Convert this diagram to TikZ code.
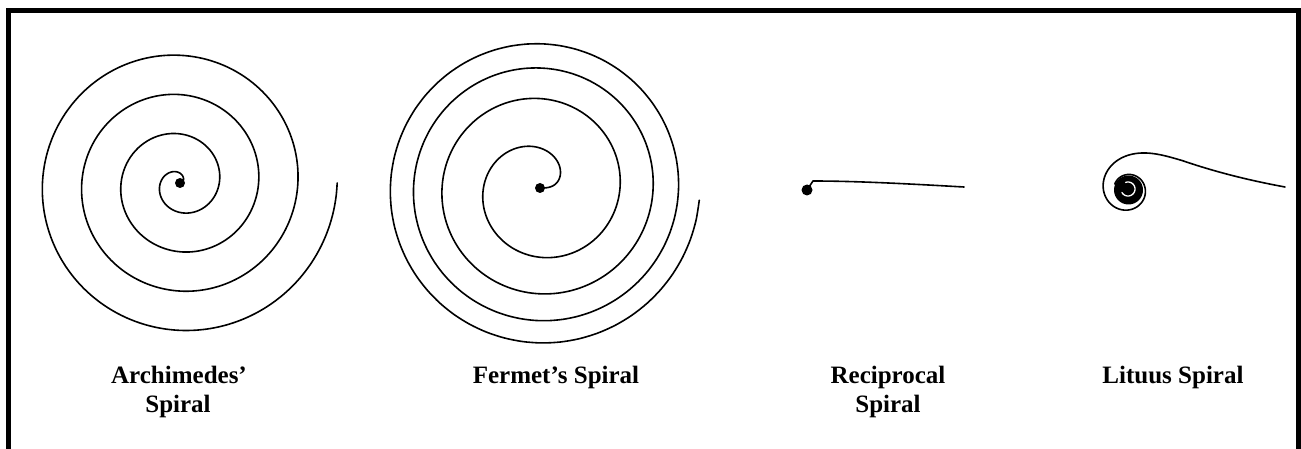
\documentclass[tikz,border=0pt]{standalone}
\usepackage{fontspec}
\setmainfont{Liberation Serif}
\begin{document}
\begin{tikzpicture}[x=1pt,y=-1pt,
  spiralline/.style={line width=1.6pt, line join=round, line cap=round},
  framestyle/.style={line width=5pt, line join=miter},
  dotstyle/.style={fill=black},
  lab/.style={font=\fontsize{25}{23}\selectfont\bfseries, anchor=base, inner sep=0pt}]
\useasboundingbox (0,0) rectangle (1301,449);
% frame
\coordinate (fbl) at (8.5,449);
\coordinate (ftl) at (8.5,10.5);
\coordinate (ftr) at (1298.5,10.5);
\coordinate (fbr) at (1298.5,449);
\draw[framestyle] (fbl) -- (ftl) -- (ftr) -- (fbr);
% Archimedes' spiral
\coordinate (ac) at (180,183);
\draw[spiralline] plot[domain=0:1440, samples=361, smooth] ({180+0.109167*\x*cos(\x)}, {183-0.109167*\x*sin(\x)});
\fill[dotstyle] (ac) circle (5pt);
% Fermat's spiral
\coordinate (fc) at (540,188);
\draw[spiralline] plot[domain=0:1, samples=400, smooth] ({540+160*\x*cos(1440*\x*\x)}, {188-160*\x*sin(1440*\x*\x)});
\fill[dotstyle] (fc) circle (5pt);
% Reciprocal spiral
\coordinate (rc) at (807,190);
\coordinate (rs) at (813,181);
\coordinate (re) at (964,187);
\fill[dotstyle] (rc) circle (5.5pt);
\draw[spiralline] (rc) -- (rs) .. controls (860,181) and (920,184.5) .. (re);
% Lituus spiral
\coordinate (lc) at (1128.5,190);
\coordinate (le) at (1285,187);
\coordinate (lj) at (1182,160.5);
\draw[spiralline] (le) .. controls (1250,180.5) and (1217,172.5) .. (lj)
  -- plot[domain=0.5:9, samples=200] ({1128+43.5*cos(\x r)/sqrt(\x)}, {190-43.5*sin(\x r)/sqrt(\x)});
\fill[dotstyle] (lc) circle (14.5pt);
\draw[white, line width=1.3pt, line cap=round] plot[domain=-110:150, samples=40] ({1128+7*cos(\x)},{189+7*sin(\x)});
% labels
\node[lab] (l1a) at (179,383) {Archimedes’};
\node[lab] (l1b) at (178,412) {Spiral};
\node[lab] (l2) at (556,383) {Fermet’s Spiral};
\node[lab] (l3a) at (888,383) {Reciprocal};
\node[lab] (l3b) at (888,412) {Spiral};
\node[lab] (l4) at (1173,383) {Lituus Spiral};
\end{tikzpicture}
\end{document}
